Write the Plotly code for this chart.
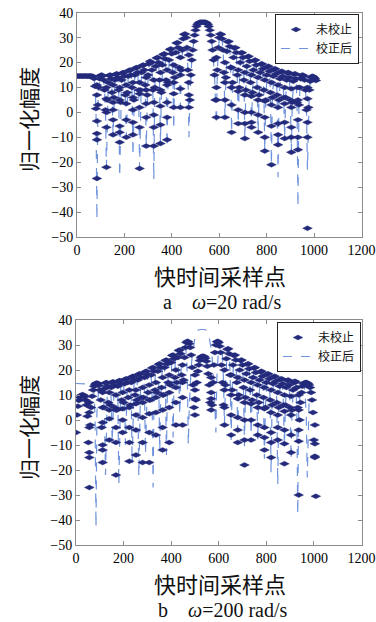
import plotly.graph_objects as go

# fast-time sample index (every 4th sample)
sample_index = list(range(0, 1009, 4))

# corrected response (dB), shared by both panels
corrected_db = [
    14.6, 14.6, 14.5, 14.6, 14.6, 14.6, 14.5, 14.6, 14.6, 14.6, 14.6, 14.5, 14.6, 14.6, 14.6, 14.6, 14.5, 14.4,
    13.6, 10.5, 1.5, -43,
    3, 10, 13.5, 14.8, 15, 14.6, 13, 9, 1, -22,
    5, 12, 14.8, 15, 13.5, 8, -9,
    6, 13, 15.3, 15.5, 14, 9, -26,
    4, 13, 15.8, 16, 14.5, 7, -10,
    8, 14.5, 16.8, 17, 15, 10, -17.5,
    5, 15, 17.8, 18, 16, 9, -22.5,
    9, 16, 18.8, 19, 17, 11, -13.5,
    7, 15, 19.5, 20.5, 20, 17, 9, -27,
    10, 18.5, 21.8, 22, 20, 13, -12.5,
    8, 19, 23.2, 23.5, 21.5, 13, -14,
    12, 21, 25.2, 25.5, 23.5, 16, -7,
    14, 24, 27.8, 28, 26, 18, 2,
    17, 25, 29.5, 31.3, 31.5, 30, 26, 17, -10,
    5, 15, 21, 25, 28.5, 31, 33, 34.5, 35.3, 35.8, 36.1,
    36.2, 36.2, 36.2, 36.2, 36.2, 36.2,
    36.1, 35.8, 35.3, 34.5, 33, 31, 28.5, 25, 21, 15, 5, -5,
    17, 26, 30, 31.5, 31.3, 29.5, 25, 16, -2,
    14, 24.5, 28.3, 28.5, 26.5, 18, -8,
    12, 22, 25.8, 26, 24, 15, -4.5,
    10, 20, 23.8, 24, 22, 13, -10.5,
    9, 18.5, 22.3, 22.5, 20.5, 12, -6,
    8, 17, 20.8, 21, 19, 10, -8,
    7, 16, 19.3, 19.5, 17.5, 9, -15.5,
    5, 15, 18.3, 18.5, 16.5, 8, -21,
    6, 14.5, 17.3, 17.5, 15.5, 7, -26,
    5, 13.5, 16.3, 16.5, 14.5, 6, -10.5,
    6, 13, 15.8, 16, 14, 5, -16,
    4, 12.5, 15.3, 15.5, 13.5, 4, -38,
    3, 10, 13.5, 14.8, 15, 14.6, 13, 9, 1, -23,
    2, 9, 12.5, 14, 14.5, 14.4, 14, 13.5, 12.8,
]

# uncorrected, omega = 20 rad/s: same as corrected except at these samples
uncorrected_a_changes = {
    84: -26.5, 180: -12, 236: -9, 324: -13.5, 380: -11, 408: 2, 472: 2,
    588: -2, 848: -4.5, 932: -15, 972: -46.5,
}

# uncorrected, omega = 200 rad/s
uncorrected_b_db = [
    -5, 2, 5.5, 7.8, 9, 9.7, 10, 10.1, 9.9, 9.3, 8, 6, 1.5, -9, -27,
    -2, 5, 9.5, 12, 13.5, 14.3, 14.7, 14.8, 14.6, 13.8, 12, 8, -3, -17,
    5, 12.5, 14.8, 15, 13.5, 7, -8,
    6, 13, 15.1, 15.3, 14, 5, -22,
    4, 13.5, 15.6, 15.8, 14.5, 8, -5,
    7, 14.5, 16.3, 16.5, 15, 9, -16.5,
    6, 15, 17.3, 17.5, 16, 10, -14,
    8, 16, 18.3, 18.5, 17, 9, -17,
    9, 17, 19.3, 19.5, 18, 11, -17,
    8, 18, 20.8, 21, 19.5, 12, -6,
    11, 19.5, 22.3, 22.5, 21, 13, -12,
    10, 21, 23.8, 24, 22.5, 15, -9,
    14, 23, 25.8, 26, 24.5, 17, -2,
    15, 25, 27.8, 28, 26.5, 18, -2,
    16, 25, 29, 31, 31.5, 31.3, 30.5, 29, 26, 21, 14, 5, 2,
    8, 15, 19.5, 22, 23.8, 24.9, 25.4, 25.5, 25.5, 25.3, 24.7, 23.5, 21.5, 18.5, 14, 7, 4,
    6, 15, 22, 27, 30, 31.3, 31.5, 31, 29.5, 27, 22, 15, 6, -2,
    14, 24.5, 28.3, 28.5, 26.5, 18, -6,
    12, 22, 25.8, 26, 24, 15, -9,
    10, 20, 23.8, 24, 22, 13, -18,
    9, 18.5, 22.3, 22.5, 20.5, 12, -8,
    8, 17, 20.8, 21, 19, 10, -6,
    7, 16, 19.3, 19.5, 17.5, 9, -12,
    5, 15, 18.3, 18.5, 16.5, 8, -15,
    6, 14.5, 17.3, 17.5, 15.5, 7, -8,
    5, 13.5, 16.3, 16.5, 14.5, 6, -17.5,
    6, 13, 15.8, 16, 14, 5, -13,
    4, 12, 15, 15.5, 15.2, 13, 5, -30,
    0, 7, 11, 13.5, 14.5, 14.8, 15, 15, 14.8, 14.5, 14, 13, 11, 8, 3, -8, -15, -30.5,
]

# extra uncorrected samples read in the steep flanks next to each null (x: values)
flank_a = {
    84: [11, 7, -3.5, -8.5, -11], 124: [10, 5.5, 0, -6], 152: [11, 4, 1, -3],
    180: [10, 5, -5.5, -8], 208: [11, 3.5, -3], 236: [12, 6, 1, -4],
    264: [12, 7.5, 2, -6], 292: [14, 9, 3.5, -2], 324: [13, 4, -1, -6],
    352: [16, 9, 2.5, -5], 380: [17, 11, 4, -2], 408: [19, 12, 7.5],
    436: [22, 15, 9.5], 472: [23, 12, 7], 588: [22, 10, 5], 624: [20, 12, 5],
    652: [18, 10, 3], 680: [17, 8.5, 1], 708: [16, 7, 0, -4.5], 736: [15, 6.5, 0, -4],
    764: [14, 5, -1], 792: [13, 4.5, -2, -10], 820: [12, 3, -5.5], 848: [11, 2, -9, -13],
    876: [10, 3.5, -4], 904: [9.5, 2, -6, -10], 932: [10, 5, -3, -10], 972: [10, 5.5, -4, -10],
}
flank_b = {
    56: [7, 3, -3, -13, -15], 112: [11, 5, -1, -10, -12], 140: [11, 4, 0.5],
    168: [10, 4, -3, -9], 196: [11, 4.5, 0], 224: [12, 5, -3, -9],
    252: [12, 6.5, 2, -4], 280: [13, 7, 1, -9], 308: [14, 8, 2.5, -5],
    336: [15, 9, 3], 364: [17, 10, 4, -3], 392: [18, 11, 5], 420: [20, 13, 7],
    448: [22, 15, 9], 500: [18, 12, 8.5], 568: [17, 11, 8.5], 624: [20, 12, 5],
    652: [18, 10, 2], 680: [17, 8.5, 1, -4], 708: [16, 7, 0, -8], 736: [15, 6.5, 0],
    764: [14, 5, -2], 792: [13, 4.5, -3, -7], 820: [12, 3, -5, -9], 848: [11, 2, -3],
    876: [10, 3.5, -4, -9.5], 904: [9.5, 2, -6], 936: [10, 4, -4, -8.5], 1004: [-2, -9.5, -14.5],
}

x_ticks = [0, 200, 400, 600, 800, 1000, 1200]
y_ticks = [-50, -40, -30, -20, -10, 0, 10, 20, 30, 40]
series_names = ["未校止", "校正后"]
panel_captions = ["a\u2003<i>ω</i>=20 rad/s", "b\u2003<i>ω</i>=200 rad/s"]

assert len(corrected_db) == len(sample_index), len(corrected_db)
assert len(uncorrected_b_db) == len(sample_index), len(uncorrected_b_db)
uncorrected_a_db = [uncorrected_a_changes.get(x, v) for x, v in zip(sample_index, corrected_db)]


def flank_points(flank):
    xs, ys = [], []
    for x0, vals in flank.items():
        for v in vals:
            xs.append(x0)
            ys.append(v)
    return xs, ys


W, H = 376, 622
MARK = "#232a7c"
LINE = "#6f93dc"
marker_style = dict(symbol="diamond-wide", size=7, color=MARK, line=dict(width=0.4, color=MARK))

fig = go.Figure()
panels = [
    dict(xa="x", ya="y", unc=uncorrected_a_db, flank=flank_a, legend="legend"),
    dict(xa="x2", ya="y2", unc=uncorrected_b_db, flank=flank_b, legend="legend2"),
]
for p in panels:
    fig.add_trace(go.Scatter(
        x=sample_index, y=corrected_db, mode="lines", name=series_names[1],
        line=dict(color=LINE, width=1.2, dash="dash"),
        xaxis=p["xa"], yaxis=p["ya"], legend=p["legend"], legendrank=2,
    ))
    fx, fy = flank_points(p["flank"])
    fig.add_trace(go.Scatter(
        x=fx, y=fy, mode="markers", name=series_names[0], showlegend=False,
        marker=marker_style, xaxis=p["xa"], yaxis=p["ya"], legend=p["legend"],
    ))
    fig.add_trace(go.Scatter(
        x=sample_index, y=p["unc"], mode="markers", name=series_names[0],
        marker=marker_style,
        xaxis=p["xa"], yaxis=p["ya"], legend=p["legend"], legendrank=1,
    ))

tickfont = dict(family="Liberation Serif", size=14, color="#000")
axis_common = dict(
    showline=True, linecolor="#8c8c8c", linewidth=1, mirror="ticks",
    ticks="inside", ticklen=4, tickcolor="#8c8c8c", showgrid=False,
    zeroline=False, tickfont=tickfont,
)


def px_x(v):
    return v / W


def px_y(v):
    return 1 - v / H


legend_common = dict(xanchor="right", yanchor="top", bgcolor="white",
                     bordercolor="#222", borderwidth=1,
                     font=dict(family="Noto Sans CJK SC", size=12, color="#111"),
                     itemwidth=30, tracegroupgap=0)

xaxis_common = dict(range=[0, 1200], tickvals=x_ticks, **axis_common)
yaxis_common = dict(range=[-50, 40], tickvals=y_ticks, **axis_common)

fig.update_layout(
    width=W, height=H, margin=dict(l=0, r=0, t=0, b=0, autoexpand=False),
    paper_bgcolor="white", plot_bgcolor="white",
    xaxis=dict(domain=[px_x(77), px_x(361.5)], anchor="y", **xaxis_common),
    yaxis=dict(domain=[px_y(237), px_y(12.7)], anchor="x", **yaxis_common),
    xaxis2=dict(domain=[px_x(76), px_x(361.5)], anchor="y2", **xaxis_common),
    yaxis2=dict(domain=[px_y(545), px_y(320)], anchor="x2", **yaxis_common),
    legend=dict(x=px_x(359), y=px_y(14), **legend_common),
    legend2=dict(x=px_x(361), y=px_y(322), **legend_common),
)

ann = []
for ytitle_c, xtitle_c, cap_c, cap in [(120, 275, 302, panel_captions[0]), (428, 583, 610, panel_captions[1])]:
    ann.append(dict(text="归一化幅度", x=px_x(28), y=px_y(ytitle_c), xref="paper", yref="paper",
                    showarrow=False, textangle=-90, xanchor="center", yanchor="middle",
                    font=dict(family="Noto Sans CJK SC", size=21, color="#111")))
    ann.append(dict(text="快时间采样点", x=px_x(220), y=px_y(xtitle_c), xref="paper", yref="paper",
                    showarrow=False, xanchor="center", yanchor="middle",
                    font=dict(family="Noto Sans CJK SC", size=22, color="#111")))
    ann.append(dict(text=cap, x=px_x(222), y=px_y(cap_c), xref="paper", yref="paper",
                    showarrow=False, xanchor="center", yanchor="middle",
                    font=dict(family="Liberation Serif", size=20, color="#111")))
fig.update_layout(annotations=ann)

fig.write_html(
    "out.html",
    config={"displayModeBar": False},
    post_script="document.body.style.margin='0';document.body.style.overflow='hidden';",
)
